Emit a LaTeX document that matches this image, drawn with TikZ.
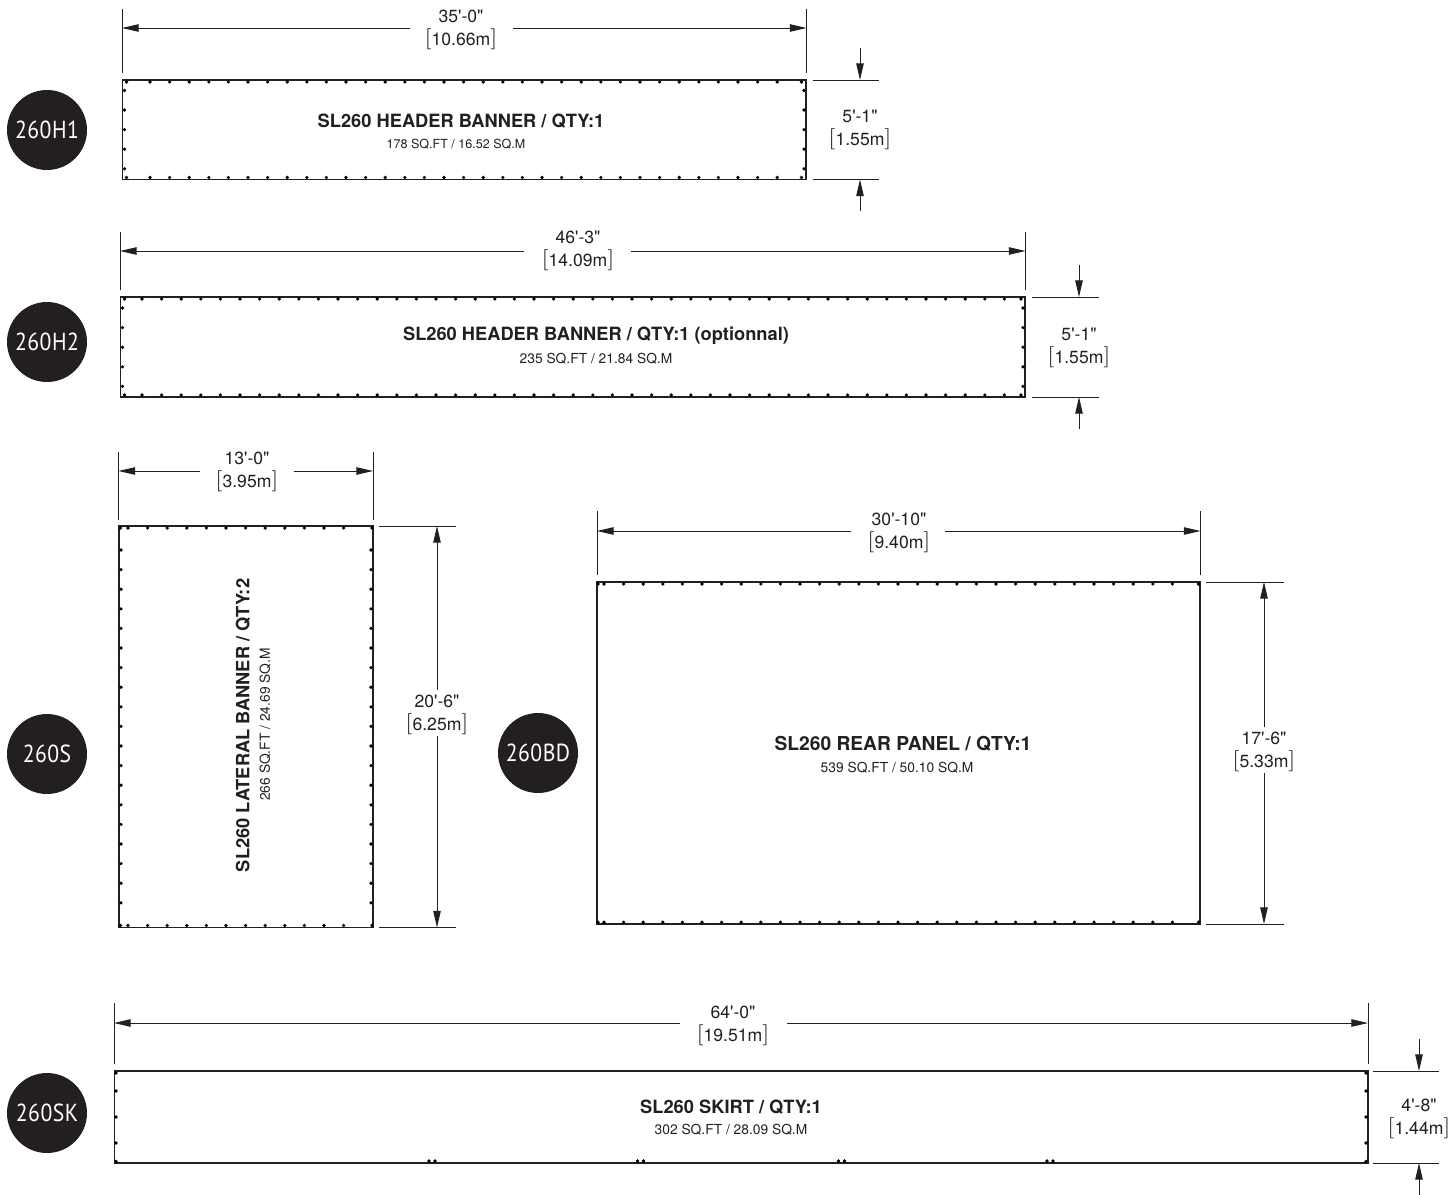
\documentclass[tikz,border=0pt]{standalone}
\usepackage{fontspec}
\usepackage{graphicx}
\usetikzlibrary{arrows.meta}
\newfontfamily\hel{TeX Gyre Heros}
\newfontfamily\din[FakeStretch=0.88,LetterSpace=2]{PT Sans}
\definecolor{ink}{HTML}{231F20}
\tikzset{
  x=0.75pt,y=-0.75pt,
  panelbox/.style={draw=ink,line width=1.15pt,inner sep=0pt,fill=white},
  grom/.style={fill=black,draw=none},
  dimline/.style={draw=ink,line width=0.7pt},
  dimarrow/.style={dimline,-{Triangle[length=12.5pt,width=5.6pt]}},
  dimlabel/.style={align=center,inner sep=0pt,text=ink,font=\hel\fontsize{13.2pt}{17.3pt}\selectfont},
  titlelabel/.style={inner sep=0pt,text=ink,font=\hel\bfseries\fontsize{13.7pt}{15pt}\selectfont},
  titlewide/.style={inner sep=0pt,text=ink,font=\hel\bfseries\fontsize{14.4pt}{16pt}\selectfont},
  sublabel/.style={inner sep=0pt,text=ink,font=\hel\fontsize{9.4pt}{11pt}\selectfont},
  sublarge/.style={inner sep=0pt,text=ink,font=\hel\fontsize{10.35pt}{12pt}\selectfont},
  tagdisc/.style={circle,fill=ink,draw=none,inner sep=0pt,minimum size=60pt,text=white,font=\din\fontsize{18.5pt}{21pt}\selectfont},
}
\newcommand\bktglyph[1]{\raisebox{0.7pt}[0pt][0pt]{\resizebox*{5.5pt}{15.75pt}{$#1$}}}
\newcommand\bkt[1]{\bktglyph{[}#1\bktglyph{]}}
% name x0 y0 x1 y1
\newcommand\panelnode[5]{%
  \pgfmathsetmacro\pw{(#4-#2)*0.75}\pgfmathsetmacro\ph{(#5-#3)*0.75}%
  \node[panelbox,minimum width=\pw pt,minimum height=\ph pt] (#1) at ({(#2+#4)/2},{(#3+#5)/2}) {};%
}
\newcommand\dotsrow[2]{\foreach \dx in {#1} {\fill[grom] (\dx,#2) circle (1.35pt);}}
\newcommand\dotscol[2]{\foreach \dy in {#2} {\fill[grom] (#1,\dy) circle (1.35pt);}}
% horizontal dimension: name x0 x1 yarrow ytop ybottom gapL gapR
\newcommand\hdim[8]{%
  \coordinate (#1a) at (#2,#4); \coordinate (#1b) at (#3,#4);
  \coordinate (#1c) at (#7,#4); \coordinate (#1d) at (#8,#4);
  \coordinate (#1e) at (#2,#5); \coordinate (#1f) at (#2,#6);
  \coordinate (#1g) at (#3,#5); \coordinate (#1h) at (#3,#6);
  \draw[dimline] (#1e) -- (#1f);
  \draw[dimline] (#1g) -- (#1h);
  \draw[dimarrow] (#1c) -- (#1a);
  \draw[dimarrow] (#1d) -- (#1b);
}
% vertical outside arrows: name x y0 y1 lineX0 lineX1 ytail0 ytail1
\newcommand\voutdim[8]{%
  \coordinate (#1a) at (#5,#3); \coordinate (#1b) at (#6,#3);
  \coordinate (#1c) at (#5,#4); \coordinate (#1d) at (#6,#4);
  \coordinate (#1e) at (#2,#3); \coordinate (#1f) at (#2,#4);
  \coordinate (#1g) at (#2,#7); \coordinate (#1h) at (#2,#8);
  \draw[dimline] (#1a) -- (#1b);
  \draw[dimline] (#1c) -- (#1d);
  \draw[dimarrow] (#1g) -- (#1e);
  \draw[dimarrow] (#1h) -- (#1f);
}
\begin{document}
\begin{tikzpicture}
\useasboundingbox (0,0) rectangle (1452,1195);

% ---------- 260H1
\node[tagdisc] (tagA) at (47,130) {260H1};
\panelnode{panelA}{122.5}{80}{806}{179.5}
\dotsrow{126.5,150,169.6,...,778,801.5}{82}
\dotsrow{126.5,150,169.6,...,778,801.5}{177.5}
\dotscol{124.5}{90.5,110,129.6,149.2,168.8}
\dotscol{804}{90.5,110,129.6,149.2,168.8}
\node[titlelabel] (titleA) at (461,121) {SL260 HEADER BANNER / QTY:1};
\node[sublabel] (subA) at (456,144) {178 SQ.FT / 16.52 SQ.M};
\hdim{dA}{122}{806.5}{28}{9}{73}{410}{513}
\node[dimlabel] (labA) at (461,28) {35'-0"\\\bkt{10.66m}};
\voutdim{vA}{860}{80}{179.5}{813}{879}{48}{211}
\node[dimlabel] (labvA) at (860,128) {5'-1"\\\bkt{1.55m}};

% ---------- 260H2
\node[tagdisc] (tagB) at (47,342) {260H2};
\panelnode{panelB}{120.5}{297}{1025}{397}
\dotsrow{124.5,142,161.6,...,1008,1021}{299}
\dotsrow{124.5,142,161.6,...,1008,1021}{395}
\dotscol{122.5}{308,327.6,347.2,366.8,386.4}
\dotscol{1023}{308,327.6,347.2,366.8,386.4}
\node[titlelabel] (titleB) at (596,336) {SL260 HEADER BANNER / QTY:1 (optionnal)};
\node[sublarge] (subB) at (596,359) {235 SQ.FT / 21.84 SQ.M};
\hdim{dB}{120}{1025.5}{251}{232}{290}{524}{631}
\node[dimlabel] (labB) at (578,249) {46'-3"\\\bkt{14.09m}};
\voutdim{vB}{1079}{297}{397}{1032}{1099}{265}{429}
\node[dimlabel] (labvB) at (1079,346) {5'-1"\\\bkt{1.55m}};

% ---------- 260S
\node[tagdisc] (tagC) at (47,754) {260S};
\panelnode{panelC}{119}{526}{373}{927.5}
\dotsrow{120.5,128,147.6,...,363,372}{528}
\dotsrow{120.5,128,147.6,...,363,372}{925.5}
\dotscol{121}{550,569.6,...,905}
\dotscol{371}{550,569.6,...,905}
\node[titlelabel,rotate=90] (titleC) at (243,725.5) {SL260 LATERAL BANNER / QTY:2};
\node[sublarge,rotate=90] (subC) at (265,724.5) {266 SQ.FT / 24.69 SQ.M};
\hdim{dC}{118.5}{373}{471}{452}{520}{200}{294}
\node[dimlabel] (labC) at (247,470) {13'-0"\\\bkt{3.95m}};
\coordinate (vCa) at (379,526); \coordinate (vCb) at (456,526);
\coordinate (vCc) at (379,927.5); \coordinate (vCd) at (456,927.5);
\coordinate (vCe) at (437,526); \coordinate (vCf) at (437,927.5);
\coordinate (vCg) at (437,690); \coordinate (vCh) at (437,736);
\draw[dimline] (vCa) -- (vCb);
\draw[dimline] (vCc) -- (vCd);
\draw[dimarrow] (vCg) -- (vCe);
\draw[dimarrow] (vCh) -- (vCf);
\node[dimlabel] (labvC) at (437,713) {20'-6"\\\bkt{6.25m}};

% ---------- 260BD
\node[tagdisc] (tagD) at (538,753) {260BD};
\panelnode{panelD}{597}{582}{1200}{924}
\dotsrow{598,604,623.6,...,1192,1198.5}{584}
\dotsrow{598,604,623.6,...,1192,1198.5}{922.2}
\node[titlewide] (titleD) at (903,744) {SL260 REAR PANEL / QTY:1};
\node[sublarge] (subD) at (897,767.5) {539 SQ.FT / 50.10 SQ.M};
\hdim{dD}{597}{1200.5}{531}{511}{575}{851}{945}
\node[dimlabel] (labD) at (899,530.5) {30'-10"\\\bkt{9.40m}};
\coordinate (vDa) at (1206,582); \coordinate (vDb) at (1284,582);
\coordinate (vDc) at (1206,924); \coordinate (vDd) at (1284,924);
\coordinate (vDe) at (1264,582); \coordinate (vDf) at (1264,924);
\coordinate (vDg) at (1264,727); \coordinate (vDh) at (1264,773);
\draw[dimline] (vDa) -- (vDb);
\draw[dimline] (vDc) -- (vDd);
\draw[dimarrow] (vDg) -- (vDe);
\draw[dimarrow] (vDh) -- (vDf);
\node[dimlabel] (labvD) at (1264,750) {17'-6"\\\bkt{5.33m}};

% ---------- 260SK
\node[tagdisc] (tagE) at (47,1113) {260SK};
\panelnode{panelE}{114.5}{1071}{1368}{1163}
\dotscol{116}{1073,1091,1117,1143,1161.5}
\dotscol{1366}{1073,1091,1117,1143,1161.5}
\dotsrow{429,435,637.5,643.5,838.5,844.5,1047,1053}{1161}
\node[titlelabel] (titleE) at (731,1107.5) {SL260 SKIRT / QTY:1};
\node[sublarge] (subE) at (731,1129.5) {302 SQ.FT / 28.09 SQ.M};
\hdim{dE}{114}{1368}{1023}{1003}{1064}{680}{787}
\node[dimlabel] (labE) at (733,1023.5) {64'-0"\\\bkt{19.51m}};
\voutdim{vE}{1419}{1071}{1163}{1373}{1439}{1039}{1195}
\node[dimlabel] (labvE) at (1419,1116.5) {4'-8"\\\bkt{1.44m}};
\end{tikzpicture}
\end{document}
